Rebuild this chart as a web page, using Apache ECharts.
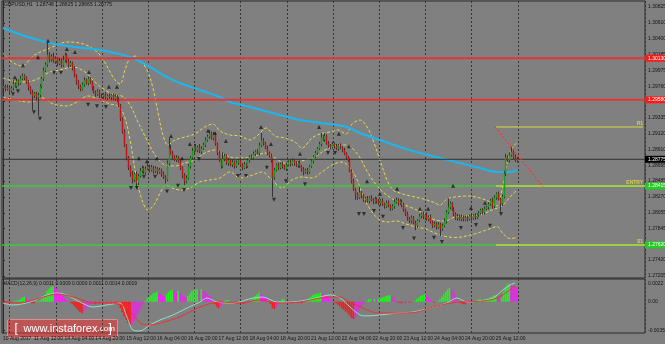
<!DOCTYPE html>
<html><head><meta charset="utf-8">
<script src="https://cdn.jsdelivr.net/npm/echarts@6.0.0/dist/echarts.min.js"></script>
<style>html,body{margin:0;padding:0;background:#808080;overflow:hidden}#c{width:665px;height:344px}</style>
</head><body><div id="c"></div>
<script>
// ---------- DATA ----------
const symbolTitle = 'GBPUSD,H1  1.28748 1.28825 1.28665 1.28775';
const macdTitle = 'MACD(12,26,9) 0.0011 0.0009 0.0000 0.0011 0.0014 0.0019';
const timeLabels = ['10 Aug 2017','11 Aug 12:00','14 Aug 04:00','14 Aug 20:00','15 Aug 12:00','16 Aug 04:00','16 Aug 20:00','17 Aug 12:00','18 Aug 04:00','18 Aug 20:00','21 Aug 12:00','22 Aug 04:00','22 Aug 20:00','23 Aug 12:00','24 Aug 04:00','24 Aug 20:00','25 Aug 12:00'];
const totalSlots = 334;           // bars + empty shift area on the right
const priceTicks = ['1.30825','1.30610','1.30400','1.30185','1.29975','1.29760','1.29550','1.29335','1.29120','1.28910','1.28695','1.28485','1.28270','1.28055','1.27845','1.27630','1.27420','1.27205'];
const macdTicks = ['0.0022','0.00','-0.0035'];
const priceMin = 1.27177, priceMax = 1.30906;
const macdMin = -0.00382, macdMax = 0.00277;

// prices in pips above 1.2700
const firstOpen = 274;
const closes = [276,272,274,270,273,279,276,283,280,286,
290,287,281,274,268,263,266,261,264,275,
286,297,305,318,312,316,309,313,306,310,
304,311,318,309,304,307,300,290,281,276,
272,278,284,280,286,281,273,268,265,269,
263,262,265,260,263,261,264,259,262,258,
250,232,215,196,180,166,158,150,158,146,
155,162,166,160,165,168,163,167,161,165,
160,163,158,154,150,172,192,186,181,177,
180,175,166,156,148,152,168,180,189,195,
190,194,188,192,197,203,208,212,206,210,
198,186,176,168,178,182,172,176,170,174,
168,173,176,170,166,171,168,176,181,179,
185,188,186,196,203,199,193,186,182,176,
153,163,170,166,171,168,165,170,174,171,
176,172,169,173,168,164,160,163,160,168,
175,181,186,192,198,207,204,209,199,196,
194,198,195,192,196,193,190,185,180,176,
162,148,137,130,126,133,128,122,125,121,
126,123,120,124,121,118,122,117,114,119,
115,111,114,120,123,118,121,116,109,104,
98,94,99,92,88,95,101,104,99,103,
97,100,93,88,91,86,90,84,88,94,
106,113,118,110,104,98,101,97,100,96,
99,97,101,98,102,99,103,105,109,106,
111,113,117,122,114,126,131,124,118,127,
158,180,176,183,187,180,176,177.5];
const upWick = [3,2,4,2,3,5,2,3,2,4,
3,2,2,3,2,3,2,2,3,4,
3,4,3,17,4,3,5,3,2,4,
3,6,3,2,4,3,2,3,2,3,
2,3,4,2,3,2,2,3,2,3,
2,3,2,3,2,3,2,2,3,2,
3,2,2,3,2,2,3,4,2,3,
3,4,3,2,3,4,2,3,2,3,
2,3,2,3,2,4,14,5,3,2,
3,2,3,2,3,4,3,2,4,3,
3,2,4,3,3,4,3,5,3,4,
3,2,3,2,9,3,2,3,2,3,
2,3,2,3,2,3,2,3,2,3,
3,2,3,4,10,3,2,3,2,3,
2,3,2,3,2,3,2,3,2,3,
3,2,3,2,3,2,3,2,3,2,
3,2,3,2,3,6,3,4,2,3,
2,3,2,3,2,3,2,3,2,2,
3,2,3,2,3,7,2,3,2,3,
2,3,2,3,2,3,2,3,2,3,
3,2,3,4,3,2,3,2,3,2,
3,2,3,2,3,2,3,2,3,2,
3,2,3,2,3,2,3,2,3,4,
3,12,3,2,3,2,3,2,3,2,
2,3,2,3,2,3,2,3,2,3,
3,2,3,2,4,3,2,3,2,3,
4,5,3,4,7,3,4,3];
const downWick = [2,3,2,4,2,3,2,3,4,2,
2,3,2,4,3,19,3,4,25,3,
2,3,2,3,4,3,2,3,3,2,
3,2,3,2,3,2,3,2,3,4,
3,2,3,2,3,2,3,2,3,2,
3,2,3,2,3,2,4,2,3,3,
2,3,3,2,4,3,4,5,3,7,
3,2,3,2,3,2,3,2,3,2,
3,2,4,3,5,2,3,2,3,2,
3,2,3,4,5,3,2,3,2,3,
2,3,2,3,2,3,2,3,2,3,
2,3,2,3,2,3,2,3,2,3,
3,2,3,2,3,2,3,2,3,2,
2,3,2,3,2,3,2,3,2,3,
26,3,2,3,2,3,2,3,2,3,
2,3,2,3,2,3,4,2,3,2,
2,3,2,3,2,3,2,3,2,3,
3,2,3,2,3,2,3,2,3,2,
2,3,2,7,3,2,3,2,3,2,
3,2,3,2,3,2,3,2,3,2,
2,3,2,3,2,3,2,3,2,3,
3,2,3,2,6,3,2,3,2,3,
2,3,2,3,2,3,2,10,3,2,
3,2,3,2,3,2,3,2,3,2,
2,3,2,3,2,3,2,3,2,3,
3,2,3,2,3,2,3,2,11,3,
2,3,2,3,2,3,2,3];

// moving average (blue) sampled [bar, pips]
const maLine = [[0,354.2],[11.4,343.5],[24.4,334],[37.4,328.7],[50.4,324.6],[58.2,320.6],[67.5,313.9],[76.4,301.7],[84.2,289.6],[91.9,280.2],[102.3,270.8],[112.7,261.4],[117.9,254.6],[128.3,247.9],[143.9,237.1],[154.3,230.4],[169.9,225],[178.7,221],[185.5,212.9],[195.8,203.5],[206.2,194.1],[216.6,186],[227,179.3],[237.4,172.5],[247.8,165.8],[256.6,160.4],[263.4,160.4],[267,163.1]];
// Bollinger bands (yellow dashed) sampled [bar, pips]
const bandUpper = [[0,320.6],[4.7,308.5],[9.9,303.1],[15.6,316.5],[21.8,324.6],[27,330],[33.2,335.4],[40,334],[45.2,328.7],[50.4,317.9],[54.5,300.4],[58.2,284.2],[60.8,278.9],[63.4,297.7],[66,313.9],[69.1,316.5],[72.2,308.5],[75.3,295],[77.9,273.5],[80.5,241.2],[83.1,210.2],[85.7,196.8],[89.4,203.5],[94.5,207.5],[99.7,211.6],[104.9,221],[109.1,225],[112.7,215.6],[117.9,210.2],[123.1,208.9],[128.3,203.5],[132.5,210.2],[136.6,219.6],[141.3,208.9],[146.5,206.2],[151.7,200.8],[155.3,192.7],[160.5,206.2],[164.7,211.6],[169.9,214.3],[174,217],[178.2,211.6],[181.3,225],[185.5,230.4],[189.1,221],[192.2,203.5],[195.8,176.6],[199.5,149.6],[202.6,136.2],[206.2,132.1],[211.4,128.1],[216.6,125.4],[223.4,120],[227,116],[230.6,124],[234.8,126.8],[241,128.1],[247.8,125.4],[253,120],[256.6,114.6],[259.2,136.2],[261.8,172.5],[264.4,192.7],[267,199.4]];
const bandMiddle = [[0,286.9],[8.8,281.5],[16.6,284.2],[24.4,295],[29.6,297.7],[36.4,301.7],[42.6,295],[47.8,281.5],[53,270.8],[58.2,264],[61.8,262.7],[66,250.6],[70.1,227.7],[74.8,203.5],[79,183.3],[84.2,169.8],[89.4,168.5],[94.5,172.5],[99.7,176.6],[104.9,186],[110.1,190],[115.3,183.3],[120.5,179.3],[125.7,179.3],[130.9,182],[136.1,186],[141.3,179.3],[146.5,172.5],[151.7,172.5],[156.9,176.6],[162.1,180.6],[167.3,190],[172.5,195.4],[177.7,196.8],[181.3,192.7],[185.5,179.3],[189.6,159.1],[194.8,140.2],[200,128.1],[206.2,118.7],[212.5,112],[219.2,103.9],[224.4,95.8],[229.6,94.5],[234.8,99.8],[241,101.2],[247.8,102.5],[254,109.3],[259.2,114.7],[263.4,126.8],[267,136.2]];
const bandLower = [[0,261.4],[6.2,257.3],[14,254.6],[20.8,260],[26,252],[33.2,249.3],[38.4,254.6],[44.2,262.7],[50.4,257.3],[55.6,252],[59.7,249.3],[62.9,237.1],[66,203.5],[69.1,156.4],[72.2,122.7],[75.3,109.3],[78.4,116],[81.6,132.1],[84.7,142.9],[87.8,138.9],[91.9,136.2],[97.1,138.9],[102.3,147],[107.5,149.6],[112.7,152.3],[117.9,160.4],[123.1,152.3],[128.3,155],[134.5,160.4],[139.7,149.6],[144.9,138.9],[150.1,149.6],[155.3,153.7],[160.5,152.3],[165.7,160.4],[170.9,169.8],[176.1,173.9],[180.3,165.8],[184,149.6],[187.5,125.4],[191.7,106.6],[195.8,95.8],[199.5,93.1],[204.2,94.5],[209.4,90.4],[214.5,86.4],[219.7,83.7],[224.9,77.5],[230.1,73.5],[235.3,72.2],[241.6,74.8],[247.3,78.9],[253,84.2],[256.6,86.9],[259.7,77.5],[263.4,70.8],[267,72.2]];
// fractal arrows [bar, pips]
const fractalUp = [[6.2,288],[10.4,304],[18.2,315],[23.4,337],[33.2,326],[37.4,322],[44.7,295],[55,275],[59.2,275],[70.6,179],[74.8,175],[80,179],[87.3,209],[93,179],[97.1,198],[106.5,216],[110.1,213],[115.8,202],[134,221],[139.2,198],[154.3,185],[164.2,221],[174.5,212],[179.7,195],[189.1,148],[195.8,131],[204.7,138],[216.6,111],[220.8,111],[233.8,142],[243.1,112],[250.4,119]];
const fractalDown = [[5.2,265],[7.8,269],[16.1,241],[19.2,232],[26.5,294],[30.1,294],[44.2,251],[48.8,249],[53.5,248],[66.5,139],[69.6,139],[73.2,154],[79,154],[85.2,134],[90.9,142],[94,136],[101.8,178],[122.1,155],[126.2,155],[137.1,166],[140.8,123],[147,148],[156.9,144],[168.8,186],[172.5,186],[184.9,104],[187.5,104],[192.7,108],[197.4,100],[207.8,85],[213.5,71],[223.9,72],[228,66],[237.9,85],[245.7,89],[253,88],[258.7,104]];
// horizontal levels (price) and their axis texts
const resistLevels = [1.30135, 1.29575];
const resistTexts = ['1.30130', '1.29580'];
const supportLevels = [1.28415, 1.27622];
const supportTexts = ['1.28415', '1.27620'];
const supportNames = ['ENTRY', 'S1'];
const r1Level = 1.29210;
const r1Name = 'R1';
const lastPrice = 1.28775;
const lastText = '1.28775';
const objStartBar = 256;
const trendLine = [[255.6, 1.29210], [280.5, 1.28405]];
// MACD histogram per bar (units of 0.0001)
const macdHist = [-1,-1,-1,-1,-1,0,1,1,2,3,
5,6,5,2,-1,-2,-2,1,1,1,
3,6,9,13,16,18,19,18,16,13,
10,7,4,2,0,-1,-3,-5,-8,-10,
-13,-14,-12,-9,-6,-4,-3,-2,-3,-2,
-2,-1,-2,-1,-2,-1,-2,-1,-2,-2,
-4,-8,-13,-18,-22,-26,-28,-27,-24,-19,
-15,-10,-6,-2,1,4,6,8,10,11,
12,10,9,7,6,9,12,14,14,13,
12,13,11,8,6,5,7,10,13,14,
15,15,14,15,13,12,10,8,6,2,
-3,-6,-8,-6,-3,1,2,2,1,0,
-1,-2,-2,-1,-2,-3,-2,-1,0,2,
4,7,9,11,10,8,6,4,1,-3,
-8,-9,-6,-2,1,3,3,2,1,-1,
-2,-1,-1,-2,-1,-2,-1,0,2,4,
6,8,9,10,10,11,10,8,7,5,
3,1,-1,-2,-4,-6,-8,-10,-12,-14,
-17,-20,-21,-20,-16,-11,-7,-3,-1,1,
3,3,2,3,2,3,4,5,6,7,
8,8,7,5,2,-1,-1,-2,-1,-1,
0,-1,-1,0,1,3,5,7,8,9,
8,5,2,0,-1,0,1,3,6,9,
12,15,17,16,13,8,3,0,-2,-3,
-3,-2,-1,-1,0,1,2,3,3,2,
3,3,4,5,6,8,8,6,5,5,
12,18,21,22,20,19,18,17];
// MACD lines sampled [bar, units of 0.0001]
const macdMain = [[0,-1.6],[5.2,-4],[14,-0.4],[22.9,8.2],[28.1,10.6],[33.2,8.2],[40,-0.4],[46.8,-6.5],[54,-4],[60.8,-1.6],[64.4,-18.7],[67.5,-34.5],[71.2,-35.7],[76.4,-28.4],[81.6,-22.3],[88.3,-16.2],[95.6,-7.7],[102.3,-0.4],[106,4.5],[111.2,-0.4],[119.5,-1.6],[129.9,4.5],[135.1,5.7],[142.3,-0.4],[149.1,-0.4],[157.9,2.1],[164.7,5.7],[169.9,8.2],[175.1,4.5],[180.3,-6.5],[185.5,-16.2],[189.1,-17.4],[195.8,-16.2],[204.7,-13.8],[213,-12.6],[221.8,-7.7],[230.6,-1.6],[235.8,4.5],[241,-0.4],[247.8,0.9],[254.5,4.5],[259.7,14.3],[263.4,20.4],[266,22.8]];
const macdSignal = [[0,-0.4],[8.8,-1.6],[19.2,4.5],[28.1,9.4],[38.4,4.5],[46.8,-1.6],[57.1,-1.6],[64.4,-7.7],[71.2,-26],[76.4,-28.4],[81.6,-26],[91.9,-18.7],[102.3,-6.5],[112.7,-0.4],[123.1,-1.6],[133.5,2.1],[142.3,-1.6],[154.3,-0.4],[164.7,4.5],[169.9,5.7],[175.1,5.7],[180.3,-0.4],[187,-7.7],[194.3,-13.8],[204.7,-13.8],[215.1,-12.6],[223.4,-6.5],[232.2,-1.6],[238.9,-0.4],[249.4,0.9],[256.6,4.5],[261.8,11.8],[266,19.2]];

// ---------- BUILD ----------
const P = p => 1.27 + p / 10000;
const M = v => v / 10000;
const opens = [firstOpen].concat(closes.slice(0, -1));
const candleData = closes.map((c, i) => {
  const o = opens[i];
  return [i, P(o), P(c), P(Math.min(o, c) - downWick[i]), P(Math.max(o, c) + upWick[i])];
});
const cats = [];
for (let i = 0; i < totalSlots; i++) cats.push(String(i));
const xEnd = totalSlots - 0.5;
const priceTickValues = priceTicks.map(Number);
const macdTickValues = macdTicks.map(Number);
const FONT = 'Liberation Sans';
const histData = macdHist.map((v, i) => {
  const p = i > 0 ? macdHist[i - 1] : v;
  let col;
  if (v >= 0) col = v >= p ? '#22f022' : '#f022f0';
  else col = v <= p ? '#f02020' : '#f022f0';
  return { value: M(v), itemStyle: { color: col } };
});
const dayLine = idx => idx >= 4 && idx <= 268 && (idx - 4) % 24 === 0;

const series = [];
// Bollinger bands
[bandUpper, bandMiddle, bandLower].forEach(b => series.push({
  type: 'line', xAxisIndex: 2, yAxisIndex: 0, data: b.map(d => [d[0], P(d[1])]),
  showSymbol: false, smooth: 0.35, silent: true, z: 3,
  lineStyle: { color: '#e6d84a', width: 1, type: [3, 2] }
}));
// MA
series.push({ type: 'line', xAxisIndex: 2, yAxisIndex: 0, data: maLine.map(d => [d[0], P(d[1])]),
  showSymbol: false, smooth: 0.3, silent: true, z: 4, lineStyle: { color: '#1bb6ee', width: 2 } });
// Resistance levels (red)
resistLevels.forEach((lv, k) => series.push({
  type: 'line', xAxisIndex: 2, yAxisIndex: 0, data: [[-0.5, lv], [xEnd, lv]], showSymbol: false, silent: true, z: 5,
  lineStyle: { color: '#e23636', width: 2 },
  endLabel: { show: true, formatter: resistTexts[k], backgroundColor: '#ff1a1a', color: '#fff', fontSize: 5, fontFamily: FONT, padding: [1, 2, 1, 3], distance: 0 }
}));
// Support levels (green)
supportLevels.forEach((lv, k) => {
  series.push({
    type: 'line', xAxisIndex: 2, yAxisIndex: 0, data: [[-0.5, lv], [xEnd, lv]], showSymbol: false, silent: true, z: 5,
    lineStyle: { color: '#3cc83c', width: 1.5 },
    endLabel: { show: true, formatter: supportTexts[k], backgroundColor: '#22cc22', color: '#fff', fontSize: 5, fontFamily: FONT, padding: [1, 2, 1, 3], distance: 0 }
  });
  series.push({
    type: 'line', xAxisIndex: 2, yAxisIndex: 0, data: [[objStartBar, lv], [xEnd, lv]], showSymbol: false, silent: true, z: 6,
    lineStyle: { color: '#b8d83a', width: 1.5 }
  });
  series.push({
    type: 'scatter', xAxisIndex: 2, yAxisIndex: 0, data: [[totalSlots - 1.5, lv]], symbolSize: 1, silent: true, z: 7,
    itemStyle: { color: 'rgba(0,0,0,0)' },
    label: { show: true, formatter: supportNames[k], position: 'top', align: 'right', distance: 0, color: '#e8e040', fontSize: 5, fontWeight: 'bold', fontFamily: FONT }
  });
});
// R1
series.push({ type: 'line', xAxisIndex: 2, yAxisIndex: 0, data: [[objStartBar, r1Level], [xEnd - 1, r1Level]], showSymbol: false, silent: true, z: 6,
  lineStyle: { color: '#d8d840', width: 1 } });
series.push({ type: 'scatter', xAxisIndex: 2, yAxisIndex: 0, data: [[totalSlots - 1.5, r1Level]], symbolSize: 1, silent: true, z: 7,
  itemStyle: { color: 'rgba(0,0,0,0)' },
  label: { show: true, formatter: r1Name, position: 'top', align: 'right', distance: 0, color: '#e8e040', fontSize: 5, fontWeight: 'bold', fontFamily: FONT } });
// red dotted trend line
series.push({ type: 'line', xAxisIndex: 2, yAxisIndex: 0, data: trendLine, showSymbol: false, silent: true, z: 9,
  lineStyle: { color: '#ff3030', width: 1.2, type: [2, 2] } });
// last price line
series.push({ type: 'line', xAxisIndex: 2, yAxisIndex: 0, data: [[-0.5, lastPrice], [xEnd, lastPrice]], showSymbol: false, silent: true, z: 5,
  lineStyle: { color: '#303030', width: 1 },
  endLabel: { show: true, formatter: lastText, backgroundColor: '#000', color: '#fff', fontSize: 5, fontFamily: FONT, padding: [1, 2, 1, 3], distance: 0 } });
// candles
series.push({
  type: 'custom', xAxisIndex: 0, yAxisIndex: 0, data: candleData, z: 8, silent: true,
  encode: { x: 0, y: [1, 2, 3, 4] },
  renderItem: (params, api) => {
    const i = api.value(0);
    const o = api.coord([i, api.value(1)]);
    const c = api.coord([i, api.value(2)]);
    const l = api.coord([i, api.value(3)]);
    const h = api.coord([i, api.value(4)]);
    const up = api.value(2) >= api.value(1);
    const x = Math.round(o[0]) + 0.5;
    const top = Math.min(o[1], c[1]);
    const bot = Math.max(o[1], c[1]);
    return { type: 'group', children: [
      { type: 'line', shape: { x1: x, y1: h[1], x2: x, y2: l[1] }, style: { stroke: '#333', lineWidth: 1 } },
      { type: 'rect', shape: { x: x - 0.75, y: top, width: 1.5, height: Math.max(bot - top, 0.8) }, style: { fill: up ? '#18a018' : '#c41414' } }
    ] };
  }
});
// fractals
series.push({ type: 'scatter', xAxisIndex: 2, yAxisIndex: 0, data: fractalUp.map(d => [d[0], P(d[1])]), symbol: 'triangle', symbolSize: [4, 4], silent: true, z: 9, itemStyle: { color: '#1a1a1a' } });
series.push({ type: 'scatter', xAxisIndex: 2, yAxisIndex: 0, data: fractalDown.map(d => [d[0], P(d[1])]), symbol: 'triangle', symbolRotate: 180, symbolSize: [4, 4], silent: true, z: 9, itemStyle: { color: '#1a1a1a' } });
// MACD
series.push({ type: 'bar', xAxisIndex: 1, yAxisIndex: 1, data: histData, barWidth: 1.7, silent: true, z: 3 });
series.push({ type: 'line', xAxisIndex: 3, yAxisIndex: 1, data: macdMain.map(d => [d[0], M(d[1])]), showSymbol: false, smooth: 0.3, silent: true, z: 4, lineStyle: { color: '#8fe0cc', width: 1 } });
series.push({ type: 'line', xAxisIndex: 3, yAxisIndex: 1, data: macdSignal.map(d => [d[0], M(d[1])]), showSymbol: false, smooth: 0.3, silent: true, z: 4, lineStyle: { color: '#f03030', width: 1 } });

const catAxis = (grid, showLabels) => ({
  type: 'category', gridIndex: grid, data: cats, boundaryGap: true,
  axisLine: { show: false }, axisTick: { show: false },
  axisLabel: showLabels ? {
    show: true, interval: idx => idx % 16 === 0 && idx / 16 < timeLabels.length,
    formatter: (v, idx) => timeLabels[idx / 16] || '', align: 'left', fontSize: 5, fontFamily: FONT, color: '#141414', margin: 3
  } : { show: false },
  splitLine: { show: true, interval: dayLine, lineStyle: { color: '#383838', width: 1, type: [2, 2] } }
});
const valAxis = grid => ({ type: 'value', gridIndex: grid, min: -0.5, max: xEnd, show: false, splitLine: { show: false } });

const option = {
  backgroundColor: '#808080',
  animation: false,
  grid: [
    { left: 2, right: 20, top: 1, height: 277, show: true, borderColor: '#2a2a2a', borderWidth: 1, outerBoundsMode: 'none', containLabel: false },
    { left: 2, right: 20, top: 279, height: 54, show: true, borderColor: '#2a2a2a', borderWidth: 1, outerBoundsMode: 'none', containLabel: false }
  ],
  xAxis: [catAxis(0, false), catAxis(1, true), valAxis(0), valAxis(1)],
  yAxis: [
    { type: 'value', gridIndex: 0, position: 'right', min: priceMin, max: priceMax,
      axisLine: { show: true, lineStyle: { color: '#2a2a2a' } },
      axisTick: { show: true, length: 2, customValues: priceTickValues, lineStyle: { color: '#2a2a2a' } },
      axisLabel: { customValues: priceTickValues, formatter: v => priceTicks[priceTickValues.findIndex(t => Math.abs(t - v) < 1e-7)] || '', fontSize: 5, fontFamily: FONT, color: '#141414', margin: 3 },
      splitLine: { show: false } },
    { type: 'value', gridIndex: 1, position: 'right', min: macdMin, max: macdMax,
      axisLine: { show: true, lineStyle: { color: '#2a2a2a' } },
      axisTick: { show: true, length: 2, customValues: macdTickValues, lineStyle: { color: '#2a2a2a' } },
      axisLabel: { customValues: macdTickValues, formatter: v => macdTicks[macdTickValues.findIndex(t => Math.abs(t - v) < 1e-9)] || '', fontSize: 5, fontFamily: FONT, color: '#141414', margin: 3 },
      splitLine: { show: false } }
  ],
  graphic: [
    { type: 'text', left: 4, top: 2, z: 20, style: { text: symbolTitle, fill: '#141414', font: '5px "Liberation Sans"' } },
    { type: 'text', left: 3, top: 281, z: 20, style: { text: macdTitle, fill: '#141414', font: '5px "Liberation Sans"' } },
    { type: 'group', left: 7, top: 319, z: 30, children: [
      { type: 'rect', shape: { x: 0, y: 0, width: 110, height: 18, r: 1 }, style: { fill: 'rgba(228,58,58,0.62)', stroke: 'rgba(255,170,170,0.6)', lineWidth: 1 } },
      { type: 'text', x: 7, y: 9, style: { text: '[', fill: '#fff', font: '12px "Liberation Sans"', verticalAlign: 'middle' } },
      { type: 'text', x: 16, y: 9.5, style: { text: '{a|www.instaforex}{b|.com}', verticalAlign: 'middle',
        rich: { a: { fill: '#fff', fontSize: 11, fontFamily: FONT }, b: { fill: '#fff', fontSize: 8, fontFamily: FONT } } } },
      { type: 'text', x: 101, y: 9, style: { text: ']', fill: '#fff', font: '12px "Liberation Sans"', verticalAlign: 'middle' } }
    ] }
  ],
  series
};
const chart = echarts.init(document.getElementById('c'));
chart.setOption(option);
</script></body></html>
